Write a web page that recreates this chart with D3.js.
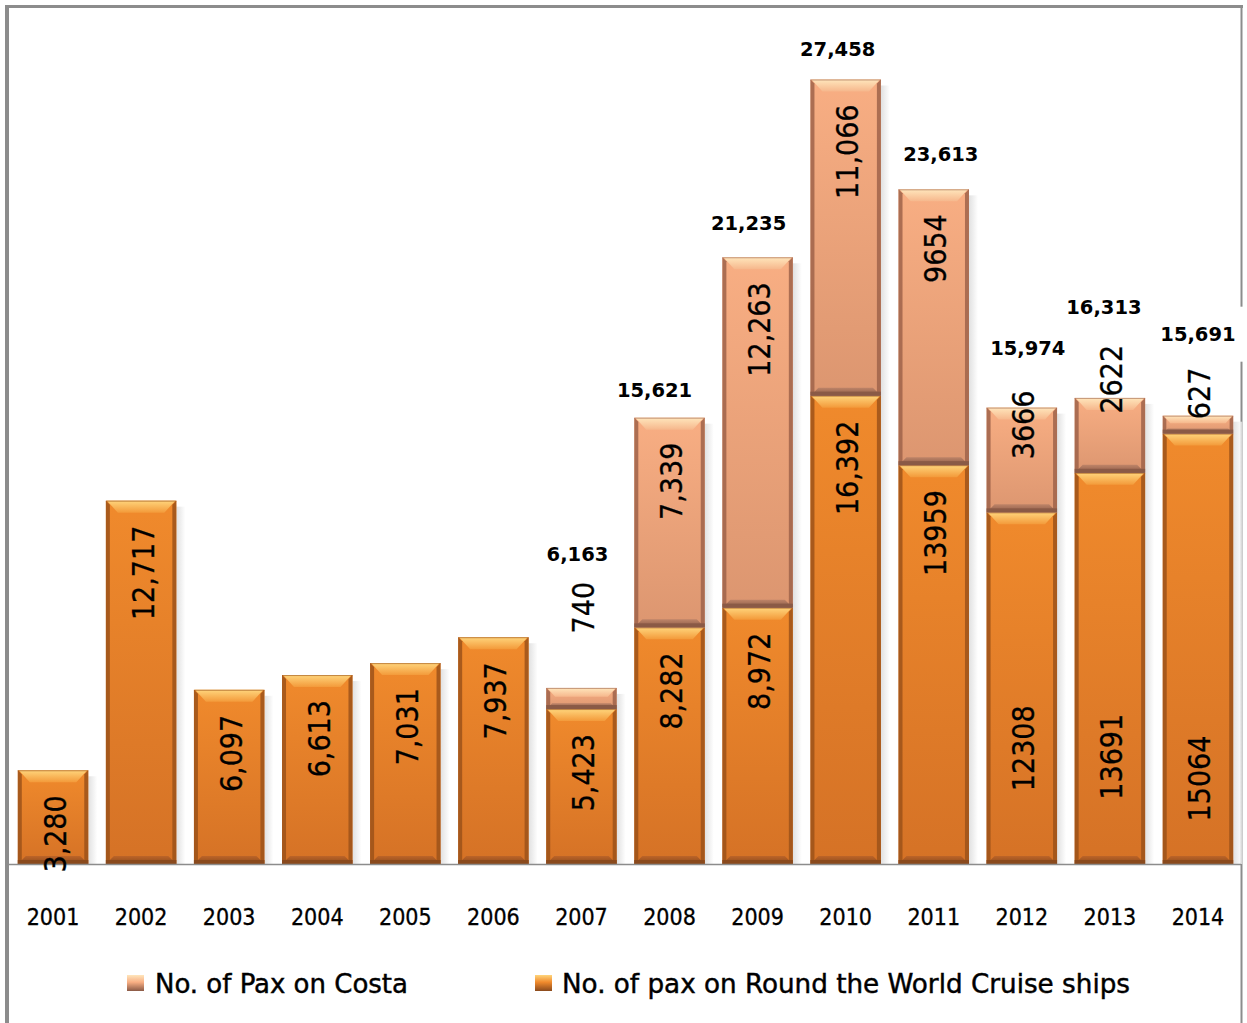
<!DOCTYPE html>
<html>
<head>
<meta charset="utf-8">
<script src="https://cdn.jsdelivr.net/npm/d3@7"></script>
<style>
  html, body { margin: 0; padding: 0; background: #ffffff; }
  svg { display: block; }
</style>
</head>
<body>
<svg id="chart" width="1247" height="1023"></svg>
<script>
// Cruise passengers per year, split by operator group
const years = ["2001", "2002", "2003", "2004", "2005", "2006", "2007",
               "2008", "2009", "2010", "2011", "2012", "2013", "2014"];
const paxWorld = [3280, 12717, 6097, 6613, 7031, 7937, 5423,
                  8282, 8972, 16392, 13959, 12308, 13691, 15064];
const paxCosta = [0, 0, 0, 0, 0, 0, 740,
                  7339, 12263, 11066, 9654, 3666, 2622, 627];
const seriesNames = ["No. of Pax on Costa", "No. of pax on Round the World Cruise ships"];

// Hand-placed label offsets (pixels) for crowded segments
const segLabelNudge = {
  "2007-costa": -131, "2012-costa": -42, "2013-costa": -78, "2014-costa": -73,
  "2012-world": 168, "2013-world": 216, "2014-world": 277
};
const totalNudge = {
  "2007": [-4, -103], "2008": [-15, 3], "2009": [-9, -3], "2010": [-8, 1],
  "2011": [7, -4], "2012": [6, -29], "2013": [-6, -60], "2014": [0, -51]
};

const rows = years.map((y, i) => ({ year: y, world: paxWorld[i], costa: paxCosta[i] }));
const stacked = d3.stack().keys(["world", "costa"])(rows);

const svg = d3.select("#chart");
const defs = svg.append("defs");

const x = d3.scaleBand().domain(years).range([9, 1242]).paddingInner(0.2).paddingOuter(0.1);
const y = d3.scaleLinear().domain([0, 28000]).range([864, 64]);

const palettes = {
  world: { bodyTop: "#f08a2c", bodyBot: "#d57226", edge: "#9c521a",
           hiTop: "#ffd57c", hiBot: "#f39a3a", band: "#8a4a1d", bandHi: "#bd6428" },
  costa: { bodyTop: "#f8ae83", bodyBot: "#dc9670", edge: "#9f634a",
           hiTop: "#ffe6bc", hiBot: "#f6b78c", band: "#8a5a46", bandHi: "#be8468" }
};

Object.entries(palettes).forEach(([k, p]) => {
  const body = defs.append("linearGradient").attr("id", "body-" + k)
    .attr("x1", 0).attr("y1", 0).attr("x2", 0).attr("y2", 1);
  body.append("stop").attr("offset", "0%").attr("stop-color", p.bodyTop);
  body.append("stop").attr("offset", "100%").attr("stop-color", p.bodyBot);
  const hi = defs.append("linearGradient").attr("id", "hi-" + k)
    .attr("x1", 0).attr("y1", 0).attr("x2", 0).attr("y2", 1);
  hi.append("stop").attr("offset", "0%").attr("stop-color", p.hiTop);
  hi.append("stop").attr("offset", "100%").attr("stop-color", p.hiBot);
  const lo = defs.append("linearGradient").attr("id", "lo-" + k)
    .attr("x1", 0).attr("y1", 0).attr("x2", 0).attr("y2", 1);
  lo.append("stop").attr("offset", "0%").attr("stop-color", p.bandHi);
  lo.append("stop").attr("offset", "100%").attr("stop-color", p.band);
});
const shadow = defs.append("linearGradient").attr("id", "shadow")
  .attr("x1", 0).attr("y1", 0).attr("x2", 1).attr("y2", 0);
shadow.append("stop").attr("offset", "0%").attr("stop-color", "#d4d4d4");
shadow.append("stop").attr("offset", "100%").attr("stop-color", "#ffffff");

// Frame
const frame = svg.append("g").attr("stroke", "#8c8c8c").attr("fill", "none");
frame.append("line").attr("x1", 5).attr("x2", 1243).attr("y1", 6.5).attr("y2", 6.5).attr("stroke-width", 3);
frame.append("line").attr("x1", 7).attr("x2", 7).attr("y1", 5).attr("y2", 1023).attr("stroke-width", 4);
frame.append("line").attr("x1", 1241.5).attr("x2", 1241.5).attr("y1", 5).attr("y2", 1023).attr("stroke-width", 2);

// Totals (only where a Costa segment exists)
const totals = rows.filter(r => r.costa > 0).map(r => {
  const off = totalNudge[r.year] || [0, 0];
  const tot = r.world + r.costa;
  return { year: r.year, total: tot,
           cx: x(r.year) + x.bandwidth() / 2 + off[0],
           by: y(tot) - 24 + off[1] };
});
svg.append("g").selectAll("rect").data(totals).join("rect")
  .attr("x", d => d.cx - 48).attr("y", d => d.by - 34)
  .attr("width", 96).attr("height", 55).attr("fill", "#ffffff");

// Bars
const barG = svg.append("g");
const bw = x.bandwidth();
// soft shadow on the right of each full bar
barG.selectAll("rect.shadow").data(rows).join("rect").attr("class", "shadow")
  .attr("x", d => x(d.year) + bw).attr("width", 9)
  .attr("y", d => y(d.world + d.costa) + 6)
  .attr("height", d => y(0) - y(d.world + d.costa) - 6)
  .attr("fill", "url(#shadow)").attr("opacity", 0.7);

function bevelSegment(g, x0, y0, w, h, key) {
  const p = palettes[key];
  const b = Math.min(12, h * 0.42);
  const bb = Math.min(8, h * 0.28);
  const e = Math.min(4, h * 0.2);
  g.append("rect").attr("x", x0).attr("y", y0).attr("width", w).attr("height", h)
    .attr("fill", `url(#body-${key})`);
  // side edges
  g.append("polygon").attr("points", [[x0, y0], [x0 + e, y0 + e], [x0 + e, y0 + h - e], [x0, y0 + h]].join(" "))
    .attr("fill", p.edge).attr("opacity", 0.85);
  g.append("polygon").attr("points", [[x0 + w, y0], [x0 + w - e, y0 + e], [x0 + w - e, y0 + h - e], [x0 + w, y0 + h]].join(" "))
    .attr("fill", p.edge).attr("opacity", 0.85);
  // top highlight
  g.append("polygon").attr("points", [[x0 + 1, y0], [x0 + w - 1, y0], [x0 + w - b, y0 + b], [x0 + b, y0 + b]].join(" "))
    .attr("fill", `url(#hi-${key})`);
  g.append("line").attr("x1", x0).attr("x2", x0 + w).attr("y1", y0 + 0.5).attr("y2", y0 + 0.5)
    .attr("stroke", p.edge).attr("stroke-width", 1).attr("opacity", 0.6);
  // bottom band
  g.append("polygon").attr("points", [[x0, y0 + h], [x0 + w, y0 + h], [x0 + w - bb, y0 + h - bb], [x0 + bb, y0 + h - bb]].join(" "))
    .attr("fill", `url(#lo-${key})`);
  g.append("rect").attr("x", x0).attr("y", y0 + h - Math.min(4, bb)).attr("width", w).attr("height", Math.min(4, bb))
    .attr("fill", p.band);
}

stacked.forEach(layer => {
  const key = layer.key;
  layer.forEach(seg => {
    const d = seg.data;
    const v = d[key];
    if (v <= 0) return;
    const x0 = x(d.year);
    const y0 = y(seg[1]);
    const h = y(seg[0]) - y(seg[1]);
    bevelSegment(barG, x0, y0, bw, h, key);
  });
});

// Baseline
svg.append("line").attr("x1", 9).attr("x2", 1241).attr("y1", y(0) + 0.5).attr("y2", y(0) + 0.5)
  .attr("stroke", "#8c8c8c").attr("stroke-width", 1.5);

// Segment value labels, rotated and placed inside the top of each segment
const fmtComma = d3.format(",");
const segLabels = [];
stacked.forEach(layer => {
  layer.forEach(seg => {
    const d = seg.data;
    const v = d[layer.key];
    if (v <= 0) return;
    const txt = (+d.year <= 2010) ? fmtComma(v) : String(v);
    segLabels.push({
      text: txt,
      cx: x(d.year) + bw / 2 + 2,
      top: y(seg[1]) + 25 + (segLabelNudge[d.year + "-" + layer.key] || 0)
    });
  });
});
svg.append("g").selectAll("text").data(segLabels).join("text")
  .attr("transform", d => `translate(${d.cx},${d.top}) rotate(-90)`)
  .attr("text-anchor", "end").attr("dominant-baseline", "central")
  .attr("font-family", "DejaVu Sans Condensed, DejaVu Sans").attr("font-size", 30)
  .attr("fill", "#000").attr("stroke", "#000").attr("stroke-width", 0.3)
  .text(d => d.text);

// Total labels
svg.append("g").selectAll("text").data(totals).join("text")
  .attr("x", d => d.cx).attr("y", d => d.by)
  .attr("text-anchor", "middle")
  .attr("font-family", "DejaVu Sans").attr("font-weight", "bold").attr("font-size", 19.5)
  .attr("fill", "#000").text(d => fmtComma(d.total));

// Category axis
const axis = svg.append("g").attr("transform", `translate(0,${y(0)})`)
  .call(d3.axisBottom(x).tickSize(0).tickPadding(45));
axis.select(".domain").remove();
axis.selectAll("text")
  .attr("font-family", "DejaVu Sans Condensed, DejaVu Sans").attr("font-size", 23)
  .attr("fill", "#000").attr("stroke", "#000").attr("stroke-width", 0.3);

// Legend
const legend = svg.append("g");
const legendItems = [
  { key: "costa", name: seriesNames[0], sx: 127, tx: 155, len: 253 },
  { key: "world", name: seriesNames[1], sx: 535, tx: 562, len: 568 }
];
legendItems.forEach(it => {
  const p = palettes[it.key];
  const sg = defs.append("linearGradient").attr("id", "leg-" + it.key)
    .attr("x1", 0).attr("y1", 0).attr("x2", 0).attr("y2", 1);
  sg.append("stop").attr("offset", "0%").attr("stop-color", p.hiTop);
  sg.append("stop").attr("offset", "45%").attr("stop-color", p.bodyTop);
  sg.append("stop").attr("offset", "100%").attr("stop-color", p.band);
  legend.append("rect").attr("x", it.sx).attr("y", 975).attr("width", 17).attr("height", 16)
    .attr("fill", `url(#leg-${it.key})`);
  legend.append("text").attr("x", it.tx).attr("y", 993)
    .attr("font-family", "DejaVu Sans Condensed, DejaVu Sans").attr("font-size", 26)
    .attr("textLength", it.len).attr("lengthAdjust", "spacingAndGlyphs")
    .attr("fill", "#000").attr("stroke", "#000").attr("stroke-width", 0.4)
    .text(it.name);
});
</script>
</body>
</html>
